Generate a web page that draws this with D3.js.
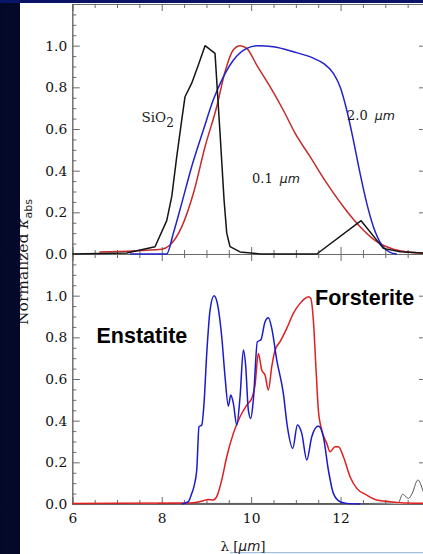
<!DOCTYPE html>
<html><head><meta charset="utf-8">
<script src="https://cdn.jsdelivr.net/npm/d3@7"></script>
<style>html,body{margin:0;padding:0;background:#0a1258;}svg{display:block;}</style>
</head><body>
<svg id="chart" width="423" height="554"></svg>
<script>
// ---------- data ----------
const xMajorTicks = [6, 8, 10, 12, 14];
const yMajorTicks = [0, 0.2, 0.4, 0.6, 0.8, 1.0];

// top panel: SiO2 (black), 0.1 um (red), 2.0 um (blue)
const sio2X = [6.0, 7.217, 7.85, 8.112, 8.224, 8.336, 8.447, 8.521, 8.671, 8.819, 8.969, 9.192, 9.304, 9.394, 9.454, 9.528, 9.752, 10.199, 11.468, 12.459, 12.957, 13.331, 13.846];
const sio2Y = [0.0, 0.005, 0.035, 0.16, 0.275, 0.467, 0.643, 0.755, 0.82, 0.907, 1.0, 0.963, 0.58, 0.26, 0.10, 0.035, 0.01, 0.0, 0.0, 0.16, 0.027, 0.011, 0.005];

const small01X = [6.604, 8.0, 8.186, 8.447, 8.707, 8.969, 9.23, 9.416, 9.602, 9.752, 9.902, 10.125, 10.423, 10.72, 10.982, 11.318, 11.691, 12.063, 12.436, 12.81, 13.181, 13.846];
const small01Y = [0.01, 0.023, 0.043, 0.13, 0.29, 0.515, 0.707, 0.875, 0.98, 1.0, 0.987, 0.907, 0.803, 0.69, 0.58, 0.467, 0.34, 0.227, 0.131, 0.059, 0.023, 0.003];

const large20X = [7.291, 8.112, 8.26, 8.447, 8.671, 8.931, 9.154, 9.378, 9.602, 9.902, 10.161, 10.497, 10.944, 11.391, 11.615, 11.839, 11.989, 12.139, 12.286, 12.436, 12.586, 12.734, 12.922, 13.107, 13.257];
const large20Y = [0.0, 0.0, 0.1, 0.243, 0.42, 0.595, 0.74, 0.85, 0.93, 0.987, 1.0, 0.995, 0.971, 0.94, 0.915, 0.867, 0.803, 0.69, 0.547, 0.387, 0.243, 0.131, 0.043, 0.008, 0.0];

// bottom panel: Enstatite (blue), Forsterite (red), grey
const enstX = [8.447, 8.595, 8.671, 8.723, 8.783, 8.834, 8.895, 8.946, 9.007, 9.081, 9.17, 9.244, 9.342, 9.416, 9.49, 9.544, 9.602, 9.678, 9.752, 9.826, 9.879, 9.937, 9.991, 10.049, 10.139, 10.215, 10.311, 10.385, 10.461, 10.573, 10.72, 10.81, 10.931, 11.034, 11.132, 11.244, 11.356, 11.503, 11.615, 11.727, 11.839, 11.989, 12.139, 12.436];
const enstY = [0.0, 0.011, 0.05, 0.086, 0.163, 0.371, 0.379, 0.483, 0.723, 0.931, 1.0, 0.963, 0.803, 0.611, 0.47, 0.523, 0.483, 0.379, 0.515, 0.739, 0.659, 0.451, 0.411, 0.499, 0.779, 0.787, 0.875, 0.894, 0.843, 0.691, 0.531, 0.371, 0.267, 0.379, 0.339, 0.211, 0.323, 0.374, 0.323, 0.163, 0.051, 0.011, 0.003, 0.0];

const forsX = [6.0, 8.633, 8.783, 8.931, 9.043, 9.154, 9.23, 9.342, 9.454, 9.602, 9.752, 9.902, 10.013, 10.087, 10.161, 10.237, 10.311, 10.385, 10.461, 10.535, 10.647, 10.796, 10.944, 11.094, 11.206, 11.28, 11.333, 11.391, 11.452, 11.503, 11.579, 11.691, 11.765, 11.877, 11.951, 12.063, 12.212, 12.362, 12.586, 12.81, 13.107, 13.331, 13.846];
const forsY = [0.003, 0.005, 0.008, 0.016, 0.022, 0.019, 0.035, 0.115, 0.227, 0.339, 0.419, 0.475, 0.507, 0.571, 0.723, 0.643, 0.619, 0.547, 0.659, 0.739, 0.779, 0.843, 0.915, 0.963, 0.987, 0.995, 0.987, 0.883, 0.643, 0.451, 0.355, 0.291, 0.251, 0.275, 0.275, 0.227, 0.131, 0.075, 0.043, 0.019, 0.011, 0.006, 0.003];

const greyX = [7.9, 8.5, 12.3, 13.0, 13.29, 13.39, 13.46, 13.52, 13.6, 13.727, 13.846];
const greyY = [0.002, 0.003, 0.002, 0.004, 0.006, 0.047, 0.035, 0.027, 0.05, 0.115, 0.06];

// ---------- layout ----------
const W = 423, H = 554;
const svg = d3.select("#chart");
const L = 72.3, R = 430;
const topPanel = {top: 4, bottom: 254};
const botPanel = {top: 254, bottom: 504};

const defs = svg.append("defs");
const grad = defs.append("linearGradient").attr("id", "bg").attr("x1", "0").attr("x2", "1").attr("y1", "0").attr("y2", "0");
grad.append("stop").attr("offset", "0").attr("stop-color", "#040828");
grad.append("stop").attr("offset", "1").attr("stop-color", "#0d1560");
defs.append("clipPath").attr("id", "panelClip").append("rect").attr("x", 20).attr("y", 3).attr("width", W - 20).attr("height", H - 3);

svg.append("rect").attr("width", W).attr("height", H).attr("fill", "url(#bg)");
svg.append("rect").attr("x", 0).attr("y", 0).attr("width", W).attr("height", 3).attr("fill", "#0a1466");
svg.append("rect").attr("x", 20).attr("y", 3).attr("width", W - 20).attr("height", H - 3).attr("fill", "#ffffff");
// thin light-blue line at the very bottom (slide artefact)
svg.append("line").attr("x1", 230).attr("x2", W).attr("y1", 552.7).attr("y2", 552.7).attr("stroke", "#8fb0d8").attr("stroke-width", 1);

const x = d3.scaleLinear().domain([6, 14]).range([L, R]);
const yTop = d3.scaleLinear().domain([0, 1.2]).range([topPanel.bottom, topPanel.top]);
const yBot = d3.scaleLinear().domain([0, 1.2]).range([botPanel.bottom, botPanel.top]);

const xMinor = d3.range(6, 14.001, 0.5).filter(v => !xMajorTicks.includes(v));
const yMinor = d3.range(0, 1.2001, 0.05).map(v => +v.toFixed(2)).filter(v => !yMajorTicks.some(m => Math.abs(m - v) < 1e-6));

const axisColor = "#6a6a6a";
const tickFont = "DejaVu Serif, serif";

function styleAxis(g) {
  g.selectAll("path.domain").attr("stroke", axisColor).attr("stroke-width", 1);
  g.selectAll(".tick line").attr("stroke", axisColor).attr("stroke-width", 1);
  g.selectAll(".tick text").attr("fill", "#111").style("font-family", tickFont).style("font-size", "13.8px");
}

function drawPanel(y, panel, showXLabels) {
  const g = svg.append("g");
  // left
  g.append("g").attr("transform", `translate(${L},0)`)
    .call(d3.axisLeft(y).tickValues(yMinor).tickSize(-4).tickFormat("")).call(styleAxis);
  g.append("g").attr("transform", `translate(${L},0)`)
    .call(d3.axisLeft(y).tickValues(yMajorTicks).tickSize(-7.5).tickPadding(5).tickFormat(d3.format(".1f"))).call(styleAxis);
  // right
  g.append("g").attr("transform", `translate(${R},0)`)
    .call(d3.axisRight(y).tickValues(yMajorTicks).tickSize(-11).tickFormat("")).call(styleAxis);
  // top
  g.append("g").attr("transform", `translate(0,${panel.top})`)
    .call(d3.axisTop(x).tickValues(xMinor).tickSize(-4).tickFormat("")).call(styleAxis);
  g.append("g").attr("transform", `translate(0,${panel.top})`)
    .call(d3.axisTop(x).tickValues(xMajorTicks).tickSize(-7).tickFormat("")).call(styleAxis);
  // bottom
  g.append("g").attr("transform", `translate(0,${panel.bottom})`)
    .call(d3.axisBottom(x).tickValues(xMinor).tickSize(-4).tickFormat("")).call(styleAxis);
  g.append("g").attr("transform", `translate(0,${panel.bottom})`)
    .call(d3.axisBottom(x).tickValues(xMajorTicks).tickSize(-7).tickPadding(9)
      .tickFormat(showXLabels ? d3.format("d") : "")).call(styleAxis);
  return g;
}

drawPanel(yTop, topPanel, false);
drawPanel(yBot, botPanel, true);

function drawLine(xs, ys, y, color, width, curve) {
  const pts = xs.map((v, i) => [v, ys[i]]);
  svg.append("path").datum(pts)
    .attr("fill", "none").attr("stroke", color).attr("stroke-width", width)
    .attr("stroke-linejoin", "round").attr("clip-path", "url(#panelClip)")
    .attr("d", d3.line().x(d => x(d[0])).y(d => y(d[1])).curve(curve));
}

// top panel curves
drawLine(small01X, small01Y, yTop, "#c42b2b", 1.5, d3.curveMonotoneX);
drawLine(large20X, large20Y, yTop, "#2222cc", 1.5, d3.curveMonotoneX);
drawLine(sio2X, sio2Y, yTop, "#151515", 1.5, d3.curveLinear);

// bottom panel curves
drawLine(greyX, greyY, yBot, "#555555", 1, d3.curveMonotoneX);
drawLine(forsX, forsY, yBot, "#e01e1e", 1.5, d3.curveMonotoneX);
drawLine(enstX, enstY, yBot, "#1a1ad0", 1.5, d3.curveMonotoneX);

// annotations - top panel
const sio = svg.append("text").attr("x", 141.5).attr("y", 121.8)
  .style("font-family", tickFont).style("font-size", "13.5px").attr("fill", "#1a1a1a");
sio.append("tspan").text("SiO");
sio.append("tspan").attr("dy", 5).style("font-size", "12px").text("2");

function umLabel(xp, yp, num) {
  const t = svg.append("text").attr("x", xp).attr("y", yp)
    .style("font-family", tickFont).style("font-size", "13px").attr("fill", "#1a1a1a");
  t.append("tspan").text(num);
  t.append("tspan").attr("dx", 7).style("font-family", "DejaVu Sans, sans-serif").style("font-style", "italic").style("font-size", "12.5px").text("μm");
}
umLabel(347, 119.5, "2.0");
umLabel(252, 182.5, "0.1");

// bottom panel labels
svg.append("text").attr("x", 96.5).attr("y", 343.3).text("Enstatite")
  .style("font-family", "Liberation Sans, Arial, sans-serif").style("font-weight", "bold").style("font-size", "21.5px").attr("fill", "#000");
svg.append("text").attr("x", 315).attr("y", 305).text("Forsterite")
  .style("font-family", "Liberation Sans, Arial, sans-serif").style("font-weight", "bold").style("font-size", "21.5px").attr("fill", "#000");

// axis titles
const xt = svg.append("text").attr("x", 243).attr("y", 550.5).attr("text-anchor", "middle")
  .style("font-family", tickFont).style("font-size", "13.5px").attr("fill", "#1a1a1a");
xt.append("tspan").text("λ [");
xt.append("tspan").style("font-family", "DejaVu Sans, sans-serif").style("font-style", "italic").text("μm");
xt.append("tspan").text("]");

const ytg = svg.append("g").attr("clip-path", "url(#panelClip)");
const yt = ytg.append("text").attr("transform", "translate(27.5,325) rotate(-90)")
  .style("font-family", tickFont).style("font-size", "15.5px").attr("fill", "#1a1a1a");
yt.append("tspan").text("Normalized ");
yt.append("tspan").style("font-style", "italic").text("κ");
yt.append("tspan").attr("dy", 4).style("font-family", "DejaVu Sans, sans-serif").style("font-size", "11px").text("abs");
</script>
</body></html>
